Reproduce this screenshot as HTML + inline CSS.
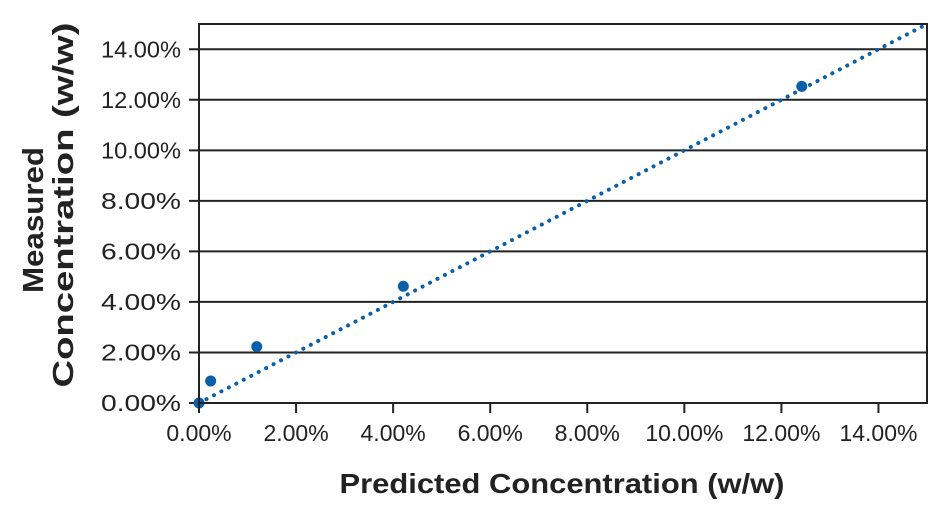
<!DOCTYPE html>
<html><head><meta charset="utf-8"><style>
html,body{margin:0;padding:0;background:#fff;}
svg{display:block;font-family:"Liberation Sans",Arial,sans-serif;}
</style></head><body>
<svg id="chart" width="950" height="510" viewBox="0 0 950 510" xmlns="http://www.w3.org/2000/svg">
<g id="grid"></g>
<g id="fit"></g>
<g id="pts"></g>
<rect x="199" y="24" width="728" height="379" fill="none" stroke="#222" stroke-width="2"/>
<g id="axes"></g>
<text x="562" y="493" text-anchor="middle" font-size="28" font-weight="bold" fill="#222" textLength="445" lengthAdjust="spacingAndGlyphs">Predicted Concentration (w/w)</text>
<text transform="translate(43,220) rotate(-90)" text-anchor="middle" font-size="29" font-weight="bold" fill="#222" textLength="146" lengthAdjust="spacingAndGlyphs">Measured</text>
<text transform="translate(73,205) rotate(-90)" text-anchor="middle" font-size="29" font-weight="bold" fill="#222" textLength="365" lengthAdjust="spacingAndGlyphs">Concentration (w/w)</text>
</svg>
<script>
const xTicks = [0, 2, 4, 6, 8, 10, 12, 14];
const yTicks = [0, 2, 4, 6, 8, 10, 12, 14];
const predicted = [0, 0.24, 1.19, 4.21, 12.42];
const measured = [0, 0.87, 2.23, 4.62, 12.53];
const fitLine = [0, 15];

const L=199,R=927,T=24,B=403,MAX=15;
function sx(v){return L+(R-L)*v/MAX;}
function sy(v){return B-(B-T)*v/MAX;}
const NS="http://www.w3.org/2000/svg";
function mk(tag,parent){const e=document.createElementNS(NS,tag);document.getElementById(parent).appendChild(e);return e;}

yTicks.forEach(v=>{
  const g=mk('line','grid');
  
  
  g.setAttribute('x1',L-10);g.setAttribute('x2',R);g.setAttribute('y1',sy(v));g.setAttribute('y2',sy(v));
  g.setAttribute('stroke','#222');g.setAttribute('stroke-width','2');
  const t=mk('text','axes');
  
  
  t.setAttribute('x',181);t.setAttribute('y',sy(v)+8);t.setAttribute('text-anchor','end');
  t.setAttribute('font-size','23');t.setAttribute('fill','#222');
  t.setAttribute('textLength','80');t.setAttribute('lengthAdjust','spacingAndGlyphs');
  t.textContent=v.toFixed(2)+'%';
});
xTicks.forEach(v=>{
  const k=mk('line','axes');
  
  
  k.setAttribute('x1',sx(v));k.setAttribute('x2',sx(v));k.setAttribute('y1',B);k.setAttribute('y2',B+10);
  k.setAttribute('stroke','#222');k.setAttribute('stroke-width','2');
  const t=mk('text','axes');
  
  
  t.setAttribute('x',sx(v));t.setAttribute('y',441);t.setAttribute('text-anchor','middle');
  t.setAttribute('font-size','23');t.setAttribute('fill','#222');
  t.textContent=v.toFixed(2)+'%';
});
const ln=mk('line','fit');


ln.setAttribute('x1',sx(fitLine[0]));ln.setAttribute('y1',sy(fitLine[0]));
ln.setAttribute('x2',sx(fitLine[1]));ln.setAttribute('y2',sy(fitLine[1]));
ln.setAttribute('stroke','#0a5fab');ln.setAttribute('stroke-width','4');
ln.setAttribute('stroke-linecap','round');ln.setAttribute('stroke-dasharray','0.1 8.3');
predicted.forEach((p,i)=>{
  const c=mk('circle','pts');
  
  
  c.setAttribute('cx',sx(p));c.setAttribute('cy',sy(measured[i]));c.setAttribute('r','5.5');
  c.setAttribute('fill','#0a5fab');
});
</script>
</body></html>
